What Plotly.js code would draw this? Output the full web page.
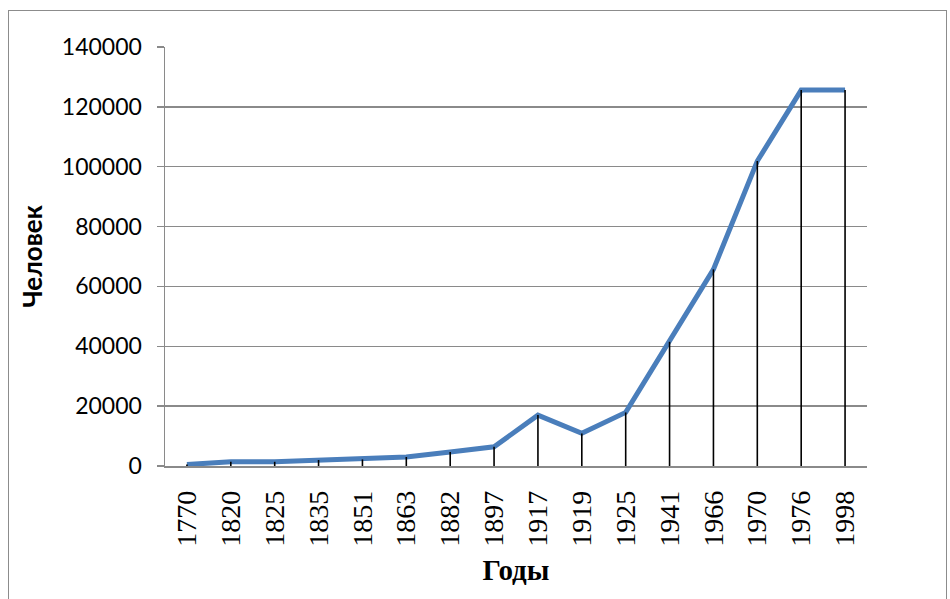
<!DOCTYPE html>
<html>
<head>
<meta charset="utf-8">
<script src="https://cdn.plot.ly/plotly-3.0.1.min.js"></script>
<style>
html,body{margin:0;padding:0;background:#fff;}
#chart{width:950px;height:599px;position:absolute;left:0;top:0;}
#frame{position:absolute;left:8px;top:10px;width:939px;height:600px;border:1px solid #8c8c8c;box-sizing:border-box;pointer-events:none;}
</style>
</head>
<body>
<div id="chart"></div>
<div id="frame"></div>
<script>
const years = ['1770','1820','1825','1835','1851','1863','1882','1897','1917','1919','1925','1941','1966','1970','1976','1998'];
const people = [500, 1400, 1400, 2000, 2200, 3000, 4700, 6400, 17000, 10900, 17900, 41500, 65700, 101900, 125600, 125600];
const yTicks = [0, 20000, 40000, 60000, 80000, 100000, 120000, 140000];

const lineTrace = {
  type: 'scatter', mode: 'lines', x: years, y: people,
  line: {color: '#4A7EBB', width: 5}, hoverinfo: 'x+y', showlegend: false
};
const dropTrace = {
  type: 'scatter', mode: 'markers', x: years, y: people,
  marker: {size: 1, opacity: 0},
  error_y: {type: 'data', symmetric: false, array: people.map(() => 0), arrayminus: people,
            color: '#000000', thickness: 1.6, width: 0},
  hoverinfo: 'skip', showlegend: false
};

const layout = {
  width: 950, height: 599,
  margin: {l: 165, r: 83, t: 47, b: 133},
  paper_bgcolor: '#ffffff', plot_bgcolor: '#ffffff',
  showlegend: false,
  xaxis: {
    type: 'category', range: [-0.5, 15.5],
    showgrid: false, zeroline: false,
    showline: true, linecolor: '#8a8a8a', linewidth: 1.5,
    ticks: '', tickangle: -90, ticklabelstandoff: 12,
    tickfont: {family: 'Liberation Serif, Times New Roman, serif', size: 28, color: '#000'},
    title: {text: '<b>Годы</b>', standoff: 14,
            font: {family: 'Liberation Serif, Times New Roman, serif', size: 29, color: '#000'}}
  },
  yaxis: {
    range: [0, 140000], tickvals: yTicks, ticktext: yTicks.map(String),
    showgrid: true, gridcolor: '#8a8a8a', gridwidth: 1.4,
    zeroline: false, showline: true, linecolor: '#8a8a8a', linewidth: 1.5,
    ticks: 'outside', ticklen: 7, tickcolor: '#8a8a8a', tickwidth: 1.5,
    ticklabelstandoff: 10,
    tickfont: {family: 'Lato, Carlito, Calibri, sans-serif', size: 23, color: '#000'},
    title: {text: '<b>Человек</b>', standoff: 12,
            font: {family: 'Lato, Carlito, Calibri, sans-serif', size: 26, color: '#000'}}
  }
};

Plotly.newPlot('chart', [lineTrace, dropTrace], layout, {displayModeBar: false, staticPlot: true});
</script>
</body>
</html>
